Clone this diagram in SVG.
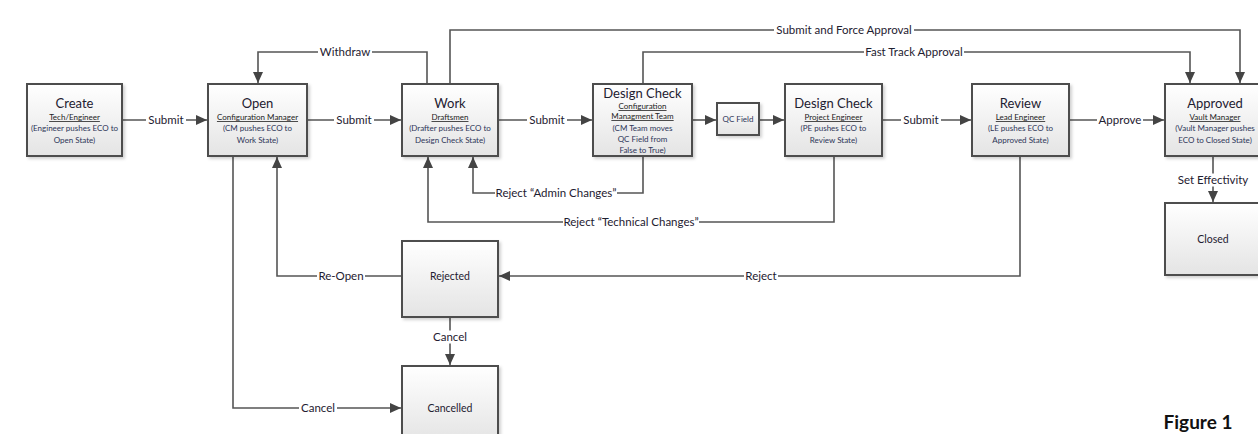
<svg xmlns="http://www.w3.org/2000/svg" width="1258" height="434" viewBox="0 0 1258 434">
<style>
.box{fill:url(#g);stroke:#4d4d4d;stroke-width:2;filter:url(#sh)}
.ln{fill:none;stroke:#555;stroke-width:1.6}
.arr{marker-end:url(#ah)}
.bg{fill:#fff}
text{font-family:Lato,"Liberation Sans",sans-serif;text-anchor:middle}
.t{font-size:13px;fill:#1e2030}
.s{font-size:8px;fill:#222;text-decoration:underline}
.d{font-size:8px;fill:#2d3558}
.n{font-size:10.5px;fill:#1e2030}
.lb{font-size:11.5px;fill:#1e2030}
</style>
<defs>
<linearGradient id="g" x1="0" y1="0" x2="0" y2="1"><stop offset="0" stop-color="#ffffff"/><stop offset="1" stop-color="#e4e4e4"/></linearGradient>
<filter id="sh" x="-10%" y="-10%" width="130%" height="130%"><feDropShadow dx="2" dy="2" stdDeviation="1.5" flood-color="#000" flood-opacity="0.18"/></filter>
<marker id="ah" markerUnits="userSpaceOnUse" markerWidth="12" markerHeight="12" viewBox="0 0 12 12" refX="11" refY="6" orient="auto"><path d="M0,1 L11,6 L0,11 Z" fill="#444"/></marker>
</defs>
<rect width="1258" height="434" fill="#fff"/>
<g id="connectors">
<path class="ln arr" d="M122,120 H207"/>
<path class="ln arr" d="M307,120 H401"/>
<path class="ln arr" d="M498,120 H592"/>
<path class="ln arr" d="M692,120 H716"/>
<path class="ln arr" d="M759,120 H784"/>
<path class="ln arr" d="M882,120 H971"/>
<path class="ln arr" d="M1069,120 H1164"/>
<path class="ln arr" d="M427,84 V52 H258 V83"/>
<path class="ln arr" d="M450,84 V30 H1240 V83"/>
<path class="ln arr" d="M643,84 V52 H1190 V83"/>
<path class="ln arr" d="M643,156 V193 H473 V157"/>
<path class="ln arr" d="M834,156 V222 H428 V157"/>
<path class="ln arr" d="M1020,156 V276 H499"/>
<path class="ln arr" d="M402,276 H277 V157"/>
<path class="ln arr" d="M450,317 V365"/>
<path class="ln arr" d="M233,156 V408 H401"/>
<path class="ln arr" d="M1213,156 V202"/>
<rect class="bg" x="146" y="113.5" width="40" height="13"/>
<rect class="bg" x="334" y="113.5" width="40" height="13"/>
<rect class="bg" x="527" y="113.5" width="40" height="13"/>
<rect class="bg" x="901" y="113.5" width="40" height="13"/>
<rect class="bg" x="1097" y="113.5" width="46" height="13"/>
<rect class="bg" x="318" y="45.5" width="54" height="13"/>
<rect class="bg" x="774" y="23.5" width="140" height="13"/>
<rect class="bg" x="864" y="45.5" width="100" height="13"/>
<rect class="bg" x="495" y="186.5" width="122" height="13"/>
<rect class="bg" x="563" y="215.5" width="136" height="13"/>
<rect class="bg" x="744" y="269.5" width="34" height="13"/>
<rect class="bg" x="317" y="269.5" width="48" height="13"/>
<rect class="bg" x="431" y="330.5" width="38" height="13"/>
<rect class="bg" x="299" y="401.5" width="38" height="13"/>
<rect class="bg" x="1176" y="173.5" width="74" height="13"/>
<text class="lb" x="166" y="124">Submit</text>
<text class="lb" x="354" y="124">Submit</text>
<text class="lb" x="547" y="124">Submit</text>
<text class="lb" x="921" y="124">Submit</text>
<text class="lb" x="1120" y="124">Approve</text>
<text class="lb" x="345" y="56">Withdraw</text>
<text class="lb" x="844" y="34">Submit and Force Approval</text>
<text class="lb" x="914" y="56">Fast Track Approval</text>
<text class="lb" x="556" y="197">Reject “Admin Changes”</text>
<text class="lb" x="631" y="226">Reject “Technical Changes”</text>
<text class="lb" x="761" y="280">Reject</text>
<text class="lb" x="341" y="280">Re-Open</text>
<text class="lb" x="450" y="341">Cancel</text>
<text class="lb" x="318" y="412">Cancel</text>
<text class="lb" x="1213" y="184">Set Effectivity</text>
</g>
<g id="create">
<rect class="box" x="27" y="84" width="95" height="72"/>
<text class="t" x="74.5" y="108">Create</text>
<text class="s" x="74.5" y="120">Tech/Engineer</text>
<text class="d" x="74.5" y="131">(Engineer pushes ECO to</text>
<text class="d" x="74.5" y="143">Open State)</text>
</g>
<g id="open">
<rect class="box" x="208" y="84" width="99" height="72"/>
<text class="t" x="257.5" y="108">Open</text>
<text class="s" x="257.5" y="120">Configuration Manager</text>
<text class="d" x="257.5" y="131">(CM pushes ECO to</text>
<text class="d" x="257.5" y="143">Work State)</text>
</g>
<g id="work">
<rect class="box" x="402" y="84" width="96" height="72"/>
<text class="t" x="450" y="108">Work</text>
<text class="s" x="450" y="120">Draftsmen</text>
<text class="d" x="450" y="131">(Drafter pushes ECO to</text>
<text class="d" x="450" y="143">Design Check State)</text>
</g>
<g id="designcheck1">
<rect class="box" x="593" y="84" width="99" height="72"/>
<text class="t" x="642.5" y="98">Design Check</text>
<text class="s" x="642.5" y="109">Configuration</text>
<text class="s" x="642.5" y="119">Managment Team</text>
<text class="d" x="642.5" y="131">(CM Team moves</text>
<text class="d" x="642.5" y="142">QC Field from</text>
<text class="d" x="642.5" y="153">False to True)</text>
</g>
<g id="qcfield">
<rect class="box" x="717" y="103" width="42" height="32"/>
<text class="d" x="738" y="122">QC Field</text>
</g>
<g id="designcheck2">
<rect class="box" x="785" y="84" width="97" height="72"/>
<text class="t" x="833.5" y="108">Design Check</text>
<text class="s" x="833.5" y="120">Project Engineer</text>
<text class="d" x="833.5" y="131">(PE pushes ECO to</text>
<text class="d" x="833.5" y="143">Review State)</text>
</g>
<g id="review">
<rect class="box" x="972" y="84" width="97" height="72"/>
<text class="t" x="1020.5" y="108">Review</text>
<text class="s" x="1020.5" y="120">Lead Engineer</text>
<text class="d" x="1020.5" y="131">(LE pushes ECO to</text>
<text class="d" x="1020.5" y="143">Approved State)</text>
</g>
<g id="approved">
<rect class="box" x="1165" y="84" width="100" height="72"/>
<text class="t" x="1215" y="108">Approved</text>
<text class="s" x="1215" y="120">Vault Manager</text>
<text class="d" x="1215" y="131">(Vault Manager pushes</text>
<text class="d" x="1215" y="143">ECO to Closed State)</text>
</g>
<g id="closed">
<rect class="box" x="1165" y="203" width="100" height="72"/>
<text class="n" x="1213" y="243">Closed</text>
</g>
<g id="rejected">
<rect class="box" x="402" y="241" width="96" height="76"/>
<text class="n" x="450" y="280">Rejected</text>
</g>
<g id="cancelled">
<rect class="box" x="402" y="366" width="96" height="76"/>
<text class="n" x="450" y="412">Cancelled</text>
</g>
<text x="1198" y="429" style="font-size:19px;font-weight:bold;fill:#111">Figure 1</text>
</svg>
